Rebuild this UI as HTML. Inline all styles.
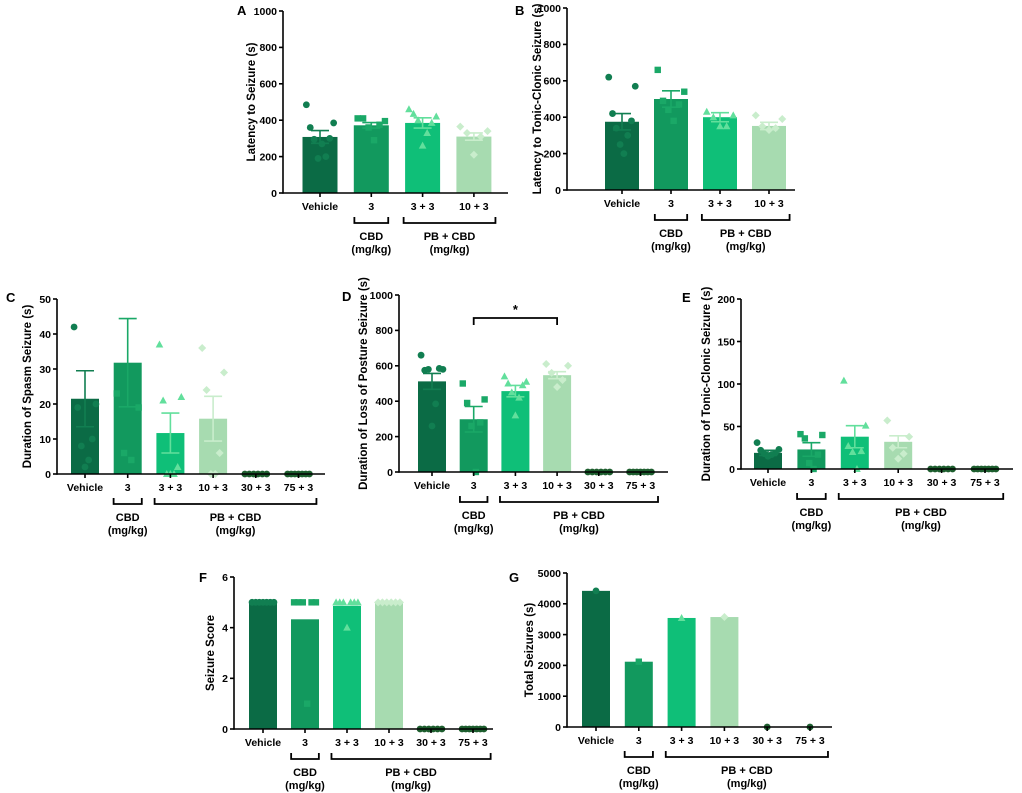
<!DOCTYPE html>
<html><head><meta charset="utf-8"><style>
html,body{margin:0;padding:0;background:#fff;}
svg{display:block;font-family:"Liberation Sans",Arial,sans-serif;font-weight:bold;}
</style></head><body>
<svg id="fig" width="1022" height="793" viewBox="0 0 1022 793" xmlns="http://www.w3.org/2000/svg"></svg>
<script>
// ---- data ----
const catsA = ["Vehicle","3","3 + 3","10 + 3"];
const cats6 = ["Vehicle","3","3 + 3","10 + 3","30 + 3","75 + 3"];

const meanA = [308,372,385,310];
const semA = [35,15,28,20];
const ptsA = [[485,385,360,300,295,200,190,270],[410,395,410,375,360,290],[460,420,435,385,400,330,260],[365,340,330,310,210]];

const meanB = [375,500,400,352];
const semB = [45,45,25,20];
const ptsB = [[620,570,420,380,340,300,250,200],[660,540,490,470,440,380],[430,410,400,350,350],[410,390,350,340,330]];

const meanC = [21.5,31.8,11.7,15.8,0,0];
const semC = [8,12.6,5.7,6.4,0,0];
const ptsC = [[42,20,19,10,8,4,2],[23,19,6,4],[37,22,21,2,0,0,0],[36,29,24,6,0,0],[0,0,0,0,0,0],[0,0,0,0,0,0,0]];

const meanD = [512,298,457,547,0,0];
const semD = [45,72,32,20,0,0];
const ptsD = [[660,580,575,585,580,385,260],[500,410,390,280,260,0],[540,510,500,490,450,420,320],[610,600,560,520,480],[0,0,0,0,0,0],[0,0,0,0,0,0,0]];

const meanE = [19,23,38,32,0,0];
const semE = [3,8,13,7,0,0];
const ptsE = [[31,23,22,19,18,17,15],[41,40,36,17,7,0],[104,51,27,21,20,0],[57,38,25,18,12],[0,0,0,0,0,0],[0,0,0,0,0,0,0]];

const meanF = [5,4.33,4.86,5,0,0];
const semF = [0,0,0,0,0,0];
const ptsF = [[5,5,5,5,5,5,5],[5,5,5,5,5,1],[5,5,5,5,5,5,4],[5,5,5,5,5,5],[0,0,0,0,0,0],[0,0,0,0,0,0,0]];

const meanG = [4420,2120,3540,3570,0,0];
const semG = [0,0,0,0,0,0];
const ptsG = [[4420],[2120],[3540],[3570],[0],[0]];

const ticksA = [0,200,400,600,800,1000];
const ticksC = [0,10,20,30,40,50];
const ticksE = [0,50,100,150,200];
const ticksF = [0,2,4,6];
const ticksG = [0,1000,2000,3000,4000,5000];

// ---- styling ----
const barCol = ["#0b6b45","#12995e","#0fbf78","#a7dbb0","#0b6b45","#0b6b45"];
const ptCol = ["#117e51","#1aa867","#62df9c","#c9edcc","#1d5e2e","#1d5e2e"];
const shapes = ["circle","square","triangle","diamond","circle","circle"];

const NS="http://www.w3.org/2000/svg";
const svg=document.getElementById('fig');
function mk(tag,attrs,parent){const e=document.createElementNS(NS,tag);for(const k in attrs)e.setAttribute(k,attrs[k]);(parent||svg).appendChild(e);return e;}

function marker(g,shape,x,y,c){
  let e;
  if(shape==="circle") e=mk('circle',{cx:x,cy:y,r:3.4,fill:c},g);
  else if(shape==="square") e=mk('rect',{x:x-3.2,y:y-3.2,width:6.4,height:6.4,fill:c},g);
  else if(shape==="triangle") e=mk('polygon',{points:`${x},${y-4} ${x-3.8},${y+3} ${x+3.8},${y+3}`,fill:c},g);
  else e=mk('polygon',{points:`${x},${y-4} ${x+4},${y} ${x},${y+4} ${x-4},${y}`,fill:c},g);
  
  
}

function panel(p){
  const g=mk('g',{});
  
  
  const yMax=p.ticks[p.ticks.length-1];
  const ys=v=>p.y0-(v/yMax)*(p.y0-p.yTop);
  const xs=i=>p.x1+i*p.step;
  const L=mk('text',{x:p.lx,y:p.ly,'font-size':13,fill:'#000'},g);L.textContent=p.letter;
  
  
  p.means.forEach((m,i)=>{
    if(m<=0) return;
    const r=mk('rect',{x:xs(i)-p.bw/2,y:ys(m),width:p.bw,height:p.y0-ys(m),fill:barCol[i]},g);
    
    
  });
  p.pts.forEach((arr,i)=>{
    const n=arr.length;
    arr.forEach((v,j)=>{
      // alternate sides for a scatter-like spread
      const k = (j%2===0) ? j/2 : n-1-(j-1)/2;
      const off = n>1 ? (k-(n-1)/2)*(p.bw*0.78/(n-1)) : 0;
      marker(g,shapes[i],xs(i)+off,ys(v),ptCol[i]);
    });
  });
  p.sem.forEach((s,i)=>{
    if(!s) return;
    const m=p.means[i],x=xs(i),c=ptCol[i];
    const eg=mk('g',{stroke:c,'stroke-width':1.6},g);
    
    
    mk('line',{x1:x,x2:x,y1:ys(m+s),y2:ys(m-s)},eg);
    mk('line',{x1:x-9,x2:x+9,y1:ys(m+s),y2:ys(m+s)},eg);
    mk('line',{x1:x-9,x2:x+9,y1:ys(m-s),y2:ys(m-s)},eg);
  });
  const ax=mk('g',{stroke:'#000','stroke-width':1.6,fill:'none'},g);
  
  
  mk('line',{x1:p.ax,x2:p.ax,y1:p.yTop,y2:p.y0+0.8},ax);
  mk('line',{x1:p.ax,x2:p.axEnd,y1:p.y0,y2:p.y0},ax);
  p.ticks.forEach(t=>{
    mk('line',{x1:p.ax-4,x2:p.ax,y1:ys(t),y2:ys(t)},ax);
    const tx=mk('text',{x:p.ax-6,y:ys(t)+3.8,'font-size':10.5,'text-anchor':'end',fill:'#000',stroke:'none'},g);
    tx.textContent=t;
    
    
  });
  p.cats.forEach((c,i)=>{
    mk('line',{x1:xs(i),x2:xs(i),y1:p.y0,y2:p.y0+4},ax);
    const tx=mk('text',{x:xs(i),y:p.y0+17,'font-size':10.5,'text-anchor':'middle',fill:'#000'},g);
    tx.textContent=c;
    
    
  });
  const yt=mk('text',{x:0,y:0,'font-size':11.5,'text-anchor':'middle',fill:'#000',transform:`translate(${p.tx},${(p.yTop+p.y0)/2}) rotate(-90)`},g);
  yt.textContent=p.title;
  
  
  const by=p.y0+30;
  const n=p.cats.length;
  const br=[[xs(1)-p.step*0.33,xs(1)+p.step*0.33,["CBD","(mg/kg)"]],[xs(2)-p.step*0.37,xs(n-1)+p.step*0.42,["PB + CBD","(mg/kg)"]]];
  br.forEach(([a,b,lab],k)=>{
    const bg=mk('path',{d:`M${a},${by-6}V${by}H${b}V${by-6}`,stroke:'#000','stroke-width':1.8,fill:'none'},g);
    
    
    lab.forEach((s,q)=>{
      const t=mk('text',{x:(a+b)/2,y:by+17+q*13,'font-size':11,'text-anchor':'middle',fill:'#000'},g);
      t.textContent=s;
      
      
    });
  });
  if(p.sig){
    const [i1,i2,v]=p.sig;
    const sy=ys(v);
    const s=mk('path',{d:`M${xs(i1)},${sy+7}V${sy}H${xs(i2)}V${sy+7}`,stroke:'#000','stroke-width':1.8,fill:'none'},g);
    
    
    const st=mk('text',{x:(xs(i1)+xs(i2))/2,y:sy-4,'font-size':13,'text-anchor':'middle',fill:'#000'},g);
    st.textContent='*';
    
    
  }
}

panel({letter:'A',lx:237,ly:15,cats:catsA,means:meanA,sem:semA,pts:ptsA,ticks:ticksA,ax:283,axEnd:508,yTop:11,y0:193,x1:320,step:51.3,bw:35,tx:255,title:'Latency to Seizure (s)'});
panel({letter:'B',lx:515,ly:15,cats:catsA,means:meanB,sem:semB,pts:ptsB,ticks:ticksA,ax:567,axEnd:795,yTop:8,y0:190,x1:622,step:49,bw:34,tx:541,title:'Latency to Tonic-Clonic Seizure (s)'});
panel({letter:'C',lx:6,ly:302,cats:cats6,means:meanC,sem:semC,pts:ptsC,ticks:ticksC,ax:57,axEnd:325,yTop:299,y0:474,x1:85,step:42.7,bw:28,tx:31,title:'Duration of Spasm Seizure (s)'});
panel({letter:'D',lx:342,ly:301,cats:cats6,means:meanD,sem:semD,pts:ptsD,ticks:ticksA,ax:399,axEnd:668,yTop:295,y0:472,x1:432,step:41.7,bw:28,tx:367,title:'Duration of Loss of Posture Seizure (s)',sig:[1,3,870]});
panel({letter:'E',lx:682,ly:302,cats:cats6,means:meanE,sem:semE,pts:ptsE,ticks:ticksE,ax:741,axEnd:1013,yTop:299,y0:469,x1:768,step:43.4,bw:28,tx:710,title:'Duration of Tonic-Clonic Seizure (s)'});
panel({letter:'F',lx:199,ly:582,cats:cats6,means:meanF,sem:semF,pts:ptsF,ticks:ticksF,ax:234,axEnd:493,yTop:577,y0:729,x1:263,step:42,bw:28,tx:214,title:'Seizure Score'});
panel({letter:'G',lx:509,ly:582,cats:cats6,means:meanG,sem:semG,pts:ptsG,ticks:ticksG,ax:567,axEnd:832,yTop:573,y0:727,x1:596,step:42.8,bw:28,tx:533,title:'Total Seizures (s)'});
</script>
</body></html>
